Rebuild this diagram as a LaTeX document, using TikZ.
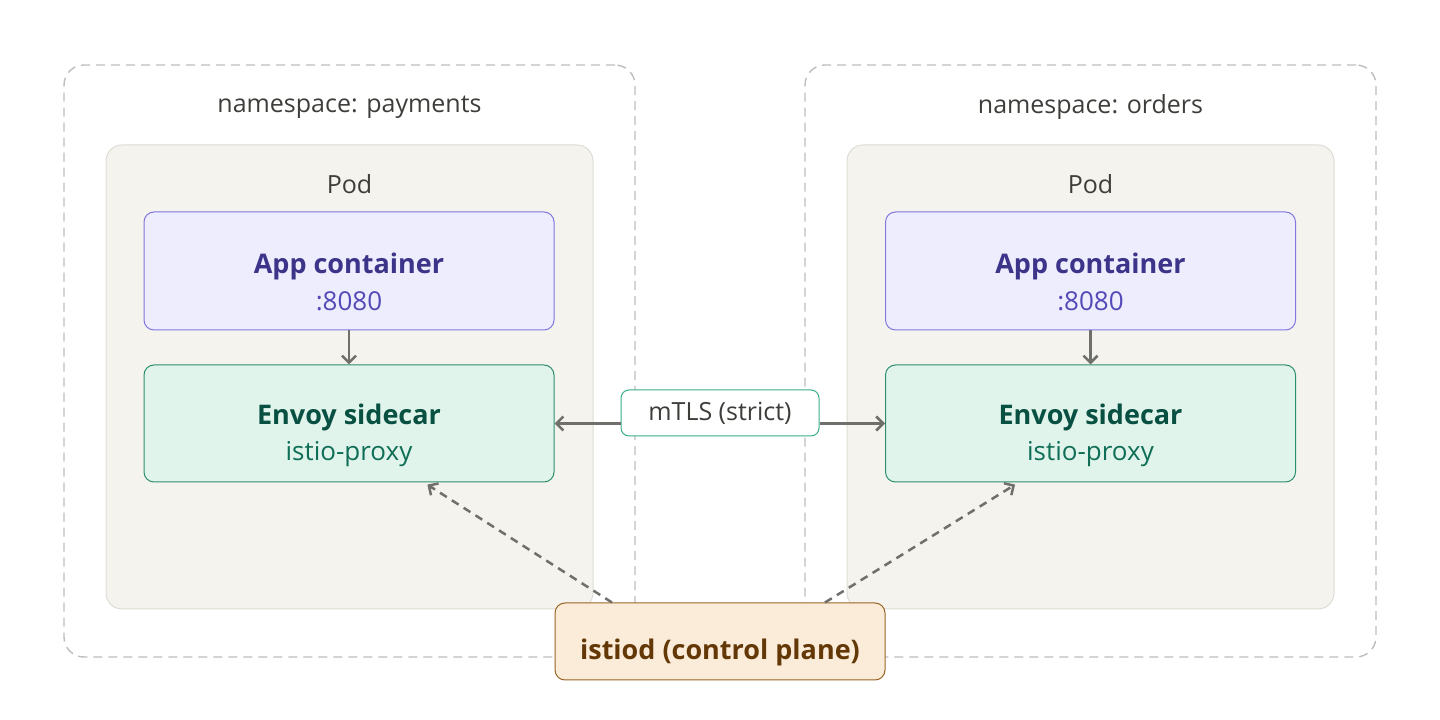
\documentclass[tikz,border=0pt]{standalone}
\usepackage{fontspec}
\setmainfont{Open Sans}
\usepackage{tikz}
\usetikzlibrary{arrows.meta}

\definecolor{nsline}{HTML}{BDBDBA}
\definecolor{podfill}{HTML}{F4F3EE}
\definecolor{podline}{HTML}{DEDCD4}
\definecolor{labeltext}{HTML}{3D3D3A}
\definecolor{appfill}{HTML}{EEEDFE}
\definecolor{appline}{HTML}{7F77DD}
\definecolor{apptext}{HTML}{3C3489}
\definecolor{appsub}{HTML}{534AB7}
\definecolor{envfill}{HTML}{E1F4EC}
\definecolor{envline}{HTML}{2E8E6C}
\definecolor{envtext}{HTML}{085041}
\definecolor{envsub}{HTML}{0F6E56}
\definecolor{tlsline}{HTML}{3AAE86}
\definecolor{ctrlfill}{HTML}{FAECD8}
\definecolor{ctrlline}{HTML}{9A6424}
\definecolor{ctrltext}{HTML}{633806}
\definecolor{arrowgray}{HTML}{6F6F6B}

\tikzset{
  >={Straight Barb[length=7pt,width=14pt,line width=2.5pt]},
  nsbox/.style={draw=nsline, line width=1.4pt, dash pattern=on 9pt off 6pt, rounded corners=20pt,
    minimum width=571pt, minimum height=592pt},
  podbox/.style={draw=podline, fill=podfill, line width=1pt, rounded corners=16pt,
    minimum width=487pt, minimum height=464pt},
  appbox/.style={draw=appline, fill=appfill, line width=1pt, rounded corners=10pt,
    minimum width=410pt, minimum height=118pt},
  envbox/.style={draw=envline, fill=envfill, line width=1pt, rounded corners=10pt,
    minimum width=410pt, minimum height=117pt},
  plain/.style={text=labeltext, font=\fontsize{25}{30}\selectfont},
  title/.style={font=\fontsize{27}{32}\selectfont\bfseries},
  sub/.style={font=\fontsize{26}{31}\selectfont},
  flow/.style={->, draw=arrowgray, line width=2.5pt},
  push/.style={->, draw=arrowgray, line width=2.5pt, dash pattern=on 8pt off 6pt, shorten >=4pt},
}

\begin{document}
\begin{tikzpicture}[x=1pt, y=1pt]
  \useasboundingbox (0,0) rectangle (1440,720);

  % namespaces
  \node[nsbox] (nsL) at (349.5,359) {};
  \node[nsbox] (nsR) at (1090.5,359) {};
  \node[plain] (nsLt) at (349.5,613) {namespace: payments};
  \node[plain] (nsRt) at (1090.5,613) {namespace: orders};

  % pods
  \node[podbox] (podL) at (349.5,343) {};
  \node[podbox] (podR) at (1090.5,343) {};
  \node[plain] (podLt) at (349.5,536) {Pod};
  \node[plain] (podRt) at (1090.5,536) {Pod};

  % containers
  \node[appbox] (appL) at (349,449) {};
  \node[title, text=apptext] (appLt) at (349,454) {App container};
  \node[sub, text=appsub] (appLs) at (349,419) {:8080};
  \node[envbox] (envL) at (349,296.5) {};
  \node[title, text=envtext] (envLt) at (349,303) {Envoy sidecar};
  \node[sub, text=envsub] (envLs) at (349,266) {istio-proxy};

  \node[appbox] (appR) at (1090.5,449) {};
  \node[title, text=apptext] (appRt) at (1090.5,454) {App container};
  \node[sub, text=appsub] (appRs) at (1090.5,419) {:8080};
  \node[envbox] (envR) at (1090.5,296.5) {};
  \node[title, text=envtext] (envRt) at (1090.5,303) {Envoy sidecar};
  \node[sub, text=envsub] (envRs) at (1090.5,266) {istio-proxy};

  \draw[flow] (appL) -- (envL);
  \draw[flow] (appR) -- (envR);

  % mTLS between sidecars
  \node[draw=tlsline, fill=white, line width=1pt, rounded corners=8pt, minimum width=198pt,
    minimum height=46pt, plain] (tls) at (720,307) {mTLS (strict)};
  \draw[flow] (tls.west |- envL.east) -- (envL.east);
  \draw[flow] (tls.east |- envR.west) -- (envR.west);

  % control plane
  \node[draw=ctrlline, fill=ctrlfill, line width=1pt, rounded corners=10pt, minimum width=330pt,
    minimum height=77pt] (ctrl) at (720,78.5) {};
  \node[title, text=ctrltext] (ctrlt) at (720,68) {istiod (control plane)};
  \draw[push] ([xshift=-108pt]ctrl.north) -- ([xshift=75pt]envL.south);
  \draw[push] ([xshift=105pt]ctrl.north) -- ([xshift=-72pt]envR.south);
\end{tikzpicture}
\end{document}
